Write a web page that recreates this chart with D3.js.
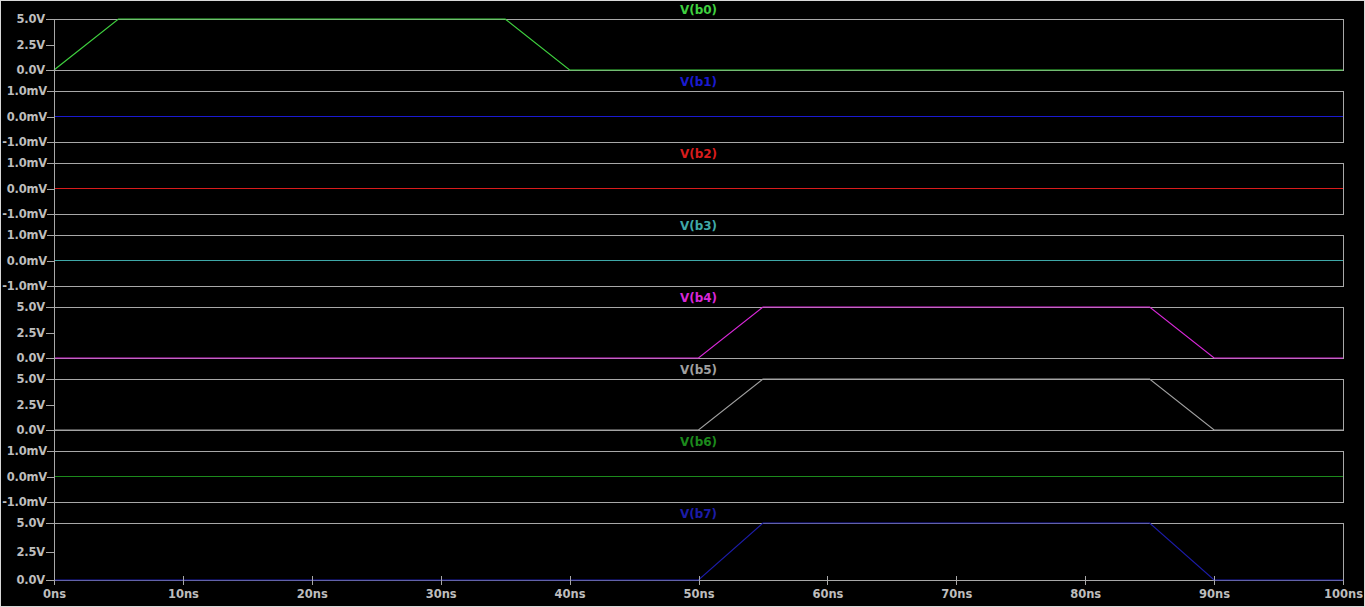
<!DOCTYPE html>
<meta charset="utf-8">
<style>
body { margin: 0; background: #000; }
svg { display: block; background: #000; }
text { font-family: "DejaVu Sans", sans-serif; font-weight: bold; font-size: 12px; }
.frame { fill: none; stroke: #a8a8a8; shape-rendering: crispEdges; }
.axis path, .axis line { stroke: #a8a8a8; shape-rendering: crispEdges; }
.axis text { fill: #bdbdbd; font-size: 11.5px; }
.yaxis text { letter-spacing: -0.2px; }
.trace { fill: none; stroke-width: 1.2; }
</style>
<body>
<script src="https://cdn.jsdelivr.net/npm/d3@7"></script>
<script>

// time points of the piecewise-linear waveforms (ns)
var timeNs = [0, 5, 35, 40, 50, 55, 85, 90, 100];

// node voltages at those time points
var b0 = [0, 5, 5, 0, 0, 0, 0, 0, 0];
var b1 = [0, 0, 0, 0, 0, 0, 0, 0, 0];
var b2 = [0, 0, 0, 0, 0, 0, 0, 0, 0];
var b3 = [0, 0, 0, 0, 0, 0, 0, 0, 0];
var b4 = [0, 0, 0, 0, 0, 5, 5, 0, 0];
var b5 = [0, 0, 0, 0, 0, 5, 5, 0, 0];
var b6 = [0, 0, 0, 0, 0, 0, 0, 0, 0];
var b7 = [0, 0, 0, 0, 0, 5, 5, 0, 0];

var names = ["V(b0)", "V(b1)", "V(b2)", "V(b3)", "V(b4)", "V(b5)", "V(b6)", "V(b7)"];
var series = [b0, b1, b2, b3, b4, b5, b6, b7];
var colors = ["#3fd03f", "#1a1ad0", "#d81c1c", "#3fa8a8", "#d828d8", "#a0a0a0", "#1c8a1c", "#1c1ca8"];

// y ticks: volt panels vs millivolt panels
var voltTicks = [0, 2.5, 5];
var mvTicks = [-1, 0, 1];
var xTicks = [0, 10, 20, 30, 40, 50, 60, 70, 80, 90, 100];

var W = 1365, H = 607;
var left = 54, right = 1343;
var top0 = 19, step = 72, ph = 51;

var svg = d3.select("body").append("svg")
  .attr("width", W).attr("height", H);

svg.append("rect")
  .attr("x", 0.5).attr("y", 0.5)
  .attr("width", W - 1).attr("height", H - 1)
  .attr("fill", "none").attr("stroke", "#d8d8d8");

var x = d3.scaleLinear().domain([0, 100]).range([left, right]);

series.forEach(function(vals, i) {
  var t = top0 + step * i;
  var b = (i == series.length - 1) ? 580 : t + ph;
  var isVolt = d3.max(vals) > 0;
  var y = d3.scaleLinear()
    .domain(isVolt ? [0, 5] : [-1, 1])
    .range([b, t]);

  var g = svg.append("g");

  // panel frame: top, right, bottom
  g.append("path").attr("class", "frame")
    .attr("d", "M" + left + "," + t + "H" + right + "V" + b + "H" + left);

  var ax = d3.axisLeft(y)
    .tickValues(isVolt ? voltTicks : mvTicks)
    .tickSize(isVolt ? 8 : 7).tickPadding(isVolt ? 1 : 0)
    .tickFormat(function(d) {
      return isVolt ? d.toFixed(1) + "V" : d.toFixed(1) + "mV";
    });
  g.append("g").attr("class", "axis yaxis")
    .attr("transform", "translate(" + left + ",0)")
    .call(ax)
    .call(function(s) { s.select(".domain").remove(); });

  var line = d3.line()
    .x(function(d, k) { return x(timeNs[k]); })
    .y(function(d) { return y(d); });
  g.append("path").attr("class", "trace")
    .datum(vals)
    .attr("stroke", colors[i])
    .attr("d", line);

  g.append("text")
    .attr("x", (left + right) / 2)
    .attr("y", t - 9)
    .attr("dy", "0.35em")
    .attr("text-anchor", "middle")
    .attr("fill", colors[i])
    .text(names[i]);

  if (i == series.length - 1) {
    var xa = d3.axisBottom(x)
      .tickValues(xTicks)
      .tickSize(5).tickPadding(5)
      .tickFormat(function(d) { return d + "ns"; });
    var xg = svg.append("g").attr("class", "axis")
      .attr("transform", "translate(0," + b + ")")
      .call(xa);
    xg.select(".domain").remove();
    xg.selectAll(".tick line").attr("y1", -4);
  }
});

// left axis line running through all panels
svg.append("line").attr("class", "frame")
  .attr("x1", left).attr("x2", left)
  .attr("y1", top0).attr("y2", 585);
svg.append("line").attr("class", "frame")
  .attr("x1", right).attr("x2", right)
  .attr("y1", 523).attr("y2", 585);

</script>
</body>
